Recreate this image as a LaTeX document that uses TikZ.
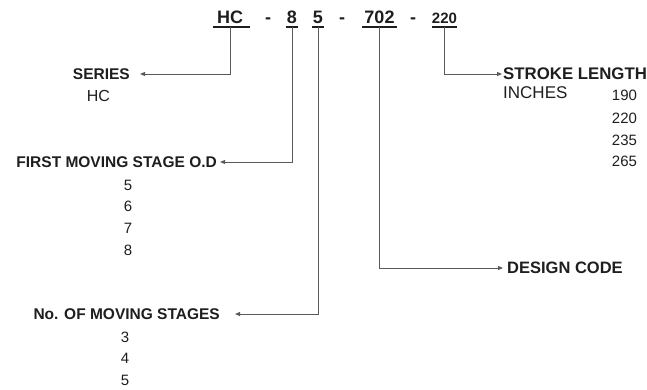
\documentclass[tikz,border=0pt]{standalone}
\usepackage{fontspec}
\setmainfont{Liberation Sans}
\usetikzlibrary{arrows.meta}
\definecolor{txt}{HTML}{1E1E1E}
\definecolor{ln}{HTML}{5A5A5A}
\begin{document}
\begin{tikzpicture}[x=1pt,y=-1pt,
  code/.style={font=\fontsize{18}{18}\selectfont\bfseries, text=txt, inner xsep=0pt, inner ysep=4pt, text depth=0pt, anchor=base},
  lab/.style={font=\fontsize{15.5}{16}\selectfont\bfseries, text=txt, inner ysep=0pt},
  item/.style={font=\fontsize{15}{16}\selectfont, text=txt, inner sep=0pt},
  uline/.style={draw=txt, line width=1.6pt},
  conn/.style={draw=ln, line width=1pt, -{Triangle[length=5pt,width=4pt]}}]
\useasboundingbox (0,0) rectangle (647,389);
% code line
\node[code] (hc) at (230,23) {HC};
\node[code] (d1) at (268,23) {-};
\node[code] (c8) at (292,23) {8};
\node[code] (c5) at (318,23) {5};
\node[code] (d2) at (342,23) {-};
\node[code] (c702) at (379.5,23) {702};
\node[code] (d3) at (413,23) {-};
\node[code, font=\fontsize{15}{15}\selectfont\bfseries] (c220) at (444.5,23) {220};
\draw[uline] ([xshift=-4pt]hc.south west) -- ([xshift=7pt]hc.south east);
\draw[uline] ([xshift=-1pt]c8.south west) -- ([xshift=1pt]c8.south east);
\draw[uline] ([xshift=-1pt]c5.south west) -- ([xshift=1pt]c5.south east);
\draw[uline] ([xshift=-2pt]c702.south west) -- ([xshift=2pt]c702.south east);
\draw[uline] (c220.south west) -- (c220.south east);
% labels
\node[lab, anchor=east, inner xsep=10pt] (series) at (140,74) {SERIES};
\node[item, font=\fontsize{16}{16}\selectfont] (hcv) at (98.5,96) {HC};
\node[lab, anchor=east, inner xsep=3pt] (fmso) at (220,162) {FIRST MOVING STAGE O.D};
\node[item] (o5) at (128,185) {5};
\node[item] (o6) at (128,206) {6};
\node[item] (o7) at (128,228) {7};
\node[item] (o8) at (128,250) {8};
\node[lab, anchor=east, inner xsep=15pt] (nms) at (235,314) {No. OF MOVING STAGES};
\node[item] (s3) at (125,337) {3};
\node[item] (s4) at (125,358) {4};
\node[item] (s5) at (125,380) {5};
\node[lab, font=\fontsize{16.8}{17}\selectfont\bfseries, anchor=west, inner xsep=1pt] (stroke) at (502,74) {STROKE LENGTH};
\node[item, font=\fontsize{17}{17}\selectfont, anchor=west] (inches) at (503,93) {INCHES};
\node[item] (l190) at (624.5,95) {190};
\node[item] (l220) at (624.5,118) {220};
\node[item] (l235) at (624.5,140) {235};
\node[item] (l265) at (624.5,161) {265};
\node[lab, font=\fontsize{16.5}{17}\selectfont\bfseries, anchor=west, inner xsep=4pt] (design) at (503,268) {DESIGN CODE};
% connectors
\draw[conn] (hc.south) |- (series.east);
\draw[conn] (c8.south) |- (fmso.east);
\draw[conn] (c5.south) |- (nms.east);
\draw[conn] (c702.south) |- (design.west);
\draw[conn] (c220.south) |- (stroke.west);
\end{tikzpicture}
\end{document}
